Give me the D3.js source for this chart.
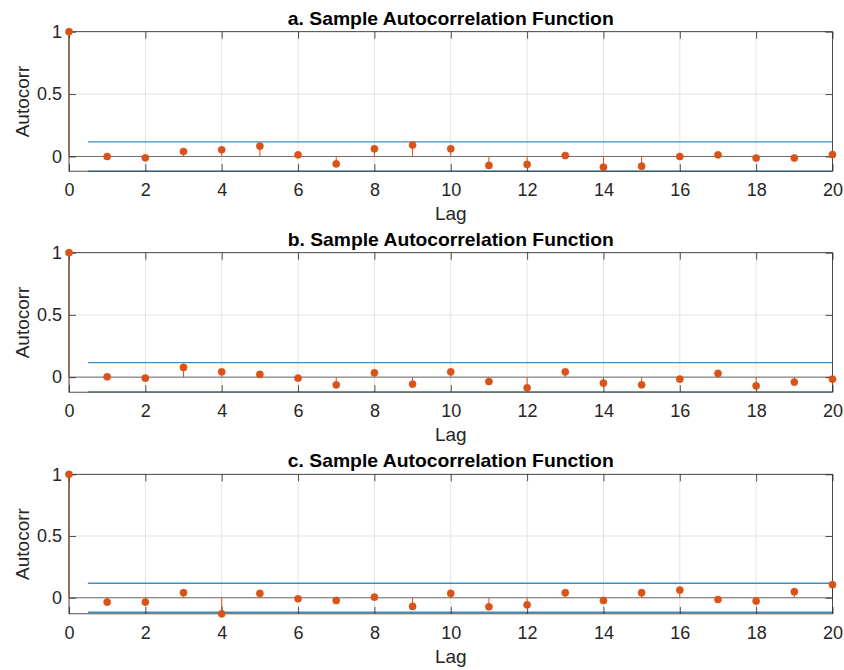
<!DOCTYPE html>
<html><head><meta charset="utf-8">
<script src="https://cdn.jsdelivr.net/npm/d3@7"></script>
<style>body{margin:0;background:#fff}svg{display:block}</style>
</head><body>
<script>
const lags = [0,1,2,3,4,5,6,7,8,9,10,11,12,13,14,15,16,17,18,19,20];
const acfA = [1,0.000,-0.011,0.040,0.054,0.083,0.013,-0.059,0.062,0.091,0.062,-0.072,-0.064,0.008,-0.086,-0.078,0.000,0.013,-0.013,-0.013,0.016];
const acfB = [1,0.003,-0.008,0.078,0.043,0.022,-0.008,-0.062,0.035,-0.056,0.043,-0.035,-0.086,0.043,-0.048,-0.062,-0.016,0.030,-0.070,-0.040,-0.016];
const acfC = [1,-0.035,-0.035,0.041,-0.130,0.035,-0.008,-0.022,0.005,-0.070,0.035,-0.073,-0.057,0.041,-0.022,0.041,0.062,-0.014,-0.027,0.049,0.106];
const bounds = [0.117, 0.117, 0.118];
const yMins = [-0.118, -0.121, -0.130];
const titles = ["a. Sample Autocorrelation Function","b. Sample Autocorrelation Function","c. Sample Autocorrelation Function"];
const xTicks = [0,2,4,6,8,10,12,14,16,18,20];
const yTicks = [0,0.5,1];
const series = [acfA, acfB, acfC];

const W=844,H=670;
const svg = d3.select("body").append("svg").attr("width",W).attr("height",H);
const font = "'Liberation Sans', Helvetica, Arial, sans-serif";
const L=69, R=832.5, ph=139.5;
const tops=[31.7,252.7,474.3];
const axisCol="#262626", stemCol="#D95319", bndCol="#3C8FC0";

series.forEach((data,i)=>{
  const top=tops[i], bot=top+ph;
  const x=d3.scaleLinear().domain([0,20]).range([L,R]);
  const y=d3.scaleLinear().domain([yMins[i],1]).range([bot,top]);
  const g=svg.append("g");
  // grid
  g.selectAll(".gx").data(xTicks).join("line")
    .attr("x1",d=>x(d)).attr("x2",d=>x(d)).attr("y1",top).attr("y2",bot)
    .attr("stroke","#e3e3e3").attr("stroke-width",1);
  g.selectAll(".gy").data(yTicks).join("line")
    .attr("x1",L).attr("x2",R).attr("y1",d=>y(d)).attr("y2",d=>y(d))
    .attr("stroke","#e3e3e3").attr("stroke-width",1);
  // confidence bounds
  [bounds[i],-bounds[i]].forEach(b=>{
    g.append("line").attr("x1",x(0.5)).attr("x2",x(20)).attr("y1",y(b)).attr("y2",y(b))
      .attr("stroke",bndCol).attr("stroke-width",i===2?1.6:1.1);
  });
  // zero line
  g.append("line").attr("x1",L).attr("x2",R).attr("y1",y(0)).attr("y2",y(0))
    .attr("stroke","#6e6e6e").attr("stroke-width",1);
  // axes (ticks inside)
  const xb=d3.axisBottom(x).tickValues(xTicks).tickSizeInner(-7).tickSizeOuter(0).tickPadding(12).tickFormat(d3.format("d"));
  const xt=d3.axisTop(x).tickValues(xTicks).tickSizeInner(-7).tickSizeOuter(0).tickFormat("");
  const yl=d3.axisLeft(y).tickValues(yTicks).tickSizeInner(-7).tickSizeOuter(0).tickPadding(7).tickFormat(d=>d===0.5?"0.5":d3.format("d")(d));
  const yr=d3.axisRight(y).tickValues(yTicks).tickSizeInner(-7).tickSizeOuter(0).tickFormat("");
  [[xb,`translate(0,${bot})`],[xt,`translate(0,${top})`],[yl,`translate(${L},0)`],[yr,`translate(${R},0)`]].forEach(([a,t])=>{
    const gg=g.append("g").attr("transform",t).call(a);
    gg.select(".domain").remove();
    gg.selectAll("line").attr("stroke",axisCol).attr("stroke-width",0.8);
    gg.selectAll("text").attr("fill",axisCol).attr("font-family",font).attr("font-size",18);
  });
  // stems
  g.selectAll(".stem").data(lags).join("line")
    .attr("x1",d=>x(d)).attr("x2",d=>x(d)).attr("y1",y(0)).attr("y2",d=>y(data[d]))
    .attr("stroke",stemCol).attr("stroke-width",1);
  // box
  g.append("rect").attr("x",L).attr("y",top).attr("width",R-L).attr("height",ph)
    .attr("fill","none").attr("stroke",axisCol).attr("stroke-width",0.8);
  // markers
  g.selectAll(".mk").data(lags).join("circle")
    .attr("cx",d=>x(d)).attr("cy",d=>y(data[d])).attr("r",3.6)
    .attr("fill",stemCol).attr("stroke",stemCol).attr("stroke-width",0.5);
  // labels
  svg.append("text").attr("x",(L+R)/2).attr("y",top-7).attr("text-anchor","middle")
    .attr("font-family",font).attr("font-weight","bold").attr("font-size",18.5).attr("fill","#000")
    .attr("textLength",326).attr("lengthAdjust","spacingAndGlyphs")
    .text(titles[i]);
  svg.append("text").attr("x",(L+R)/2).attr("y",bot+49).attr("text-anchor","middle")
    .attr("font-family",font).attr("font-size",19).attr("fill",axisCol).text("Lag");
  svg.append("text").attr("transform",`translate(29,${(top+bot)/2}) rotate(-90)`).attr("text-anchor","middle")
    .attr("font-family",font).attr("font-size",19).attr("fill",axisCol).text("Autocorr");
});
</script>
</body></html>
